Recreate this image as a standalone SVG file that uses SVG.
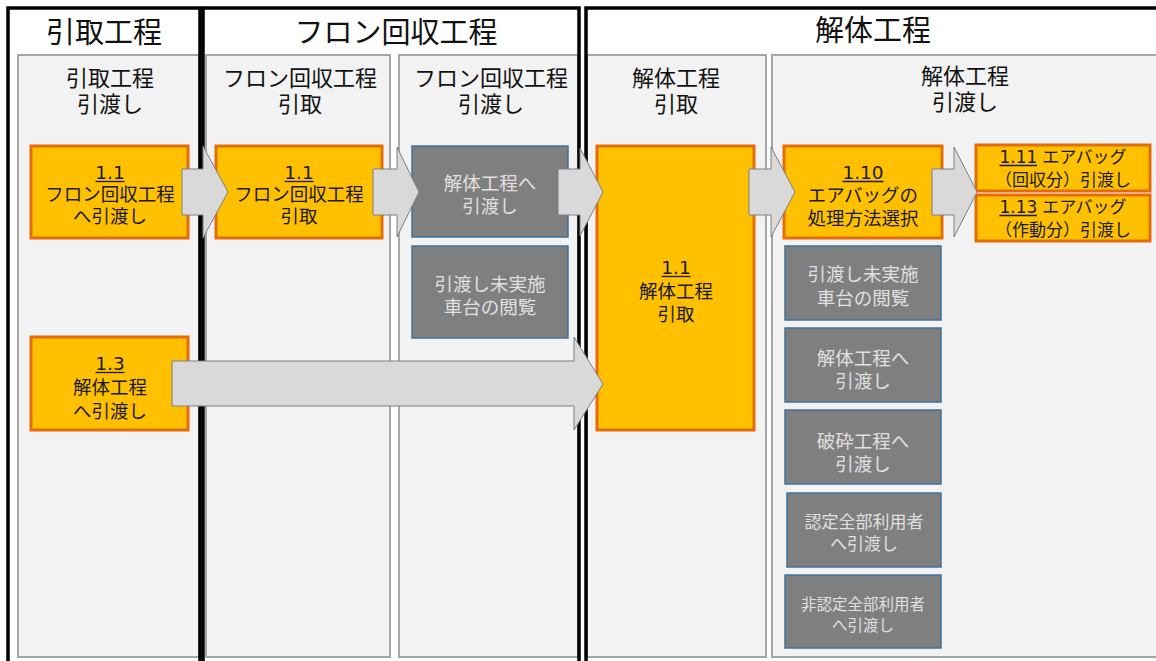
<svg xmlns="http://www.w3.org/2000/svg" width="1156" height="661" viewBox="0 0 1156 661" lang="ja">
<style>
text{font-family:"Liberation Sans","Noto Sans CJK JP",sans-serif;text-anchor:middle;dominant-baseline:central}
.n{font-family:"DejaVu Sans",sans-serif}
.frame{fill:none;stroke:#000;stroke-width:3.5}
.lane{fill:#f2f2f2;stroke:#a6a6a6;stroke-width:2}
.sec{font-size:29px;fill:#111}
.lh{font-size:22px;fill:#111}
.on{fill:#ffc000;stroke:#e46c0a;stroke-width:3}
.gn{fill:#7f7f7f;stroke:#41719c;stroke-width:1.5}
.ot{font-size:18.5px;fill:#1a1a1a}
.gt{font-size:18.5px;fill:#e0e0e0}
.ul{stroke:#1a1a1a;stroke-width:1.3}
.arr{fill:#d9d9d9;stroke:#7f7f7f;stroke-width:1}
</style>
<rect width="1156" height="661" fill="#fff"/>
<g id="lanes">
<rect class="lane" x="18" y="55" width="181" height="602"/>
<rect class="lane" x="206" y="55" width="184" height="602"/>
<rect class="lane" x="399" y="55" width="179" height="602"/>
<rect class="lane" x="587" y="55" width="179" height="602"/>
<rect class="lane" x="772" y="55" width="390" height="602"/>
</g>
<g id="frames">
<rect class="frame" x="8" y="8" width="192" height="660"/>
<rect class="frame" x="203" y="8" width="376" height="660"/>
<rect class="frame" x="586" y="8" width="580" height="660"/>
</g>
<g id="headers">
<text class="sec" x="104" y="33">引取工程</text>
<text class="sec" x="396" y="33">フロン回収工程</text>
<text class="sec" x="873" y="31">解体工程</text>
<text class="lh"><tspan x="110" y="78">引取工程</tspan><tspan x="110" y="104">引渡し</tspan></text>
<text class="lh"><tspan x="300" y="78">フロン回収工程</tspan><tspan x="300" y="104">引取</tspan></text>
<text class="lh"><tspan x="491" y="78">フロン回収工程</tspan><tspan x="491" y="104">引渡し</tspan></text>
<text class="lh"><tspan x="676" y="78">解体工程</tspan><tspan x="676" y="104">引取</tspan></text>
<text class="lh"><tspan x="965" y="76">解体工程</tspan><tspan x="965" y="102">引渡し</tspan></text>
</g>
<g id="nodeA">
<rect class="on" x="31" y="146" width="157" height="92"/>
<text class="ot"><tspan class="n" x="110" y="172">1.1</tspan><tspan x="110" y="194">フロン回収工程</tspan><tspan x="110" y="216">へ引渡し</tspan></text>
<line class="ul" x1="95.5" y1="181.5" x2="124.5" y2="181.5"/>
</g>
<g id="nodeB">
<rect class="on" x="216" y="146" width="166" height="92"/>
<text class="ot"><tspan class="n" x="299" y="172">1.1</tspan><tspan x="299" y="194">フロン回収工程</tspan><tspan x="299" y="216">引取</tspan></text>
<line class="ul" x1="284.5" y1="181.5" x2="313.5" y2="181.5"/>
</g>
<g id="nodeC">
<rect class="gn" x="412" y="146" width="156" height="91"/>
<text class="gt"><tspan x="490" y="183">解体工程へ</tspan><tspan x="490" y="206">引渡し</tspan></text>
</g>
<g id="nodeD">
<rect class="gn" x="412" y="246" width="156" height="92"/>
<text class="gt"><tspan x="490" y="284">引渡し未実施</tspan><tspan x="490" y="307">車台の閲覧</tspan></text>
</g>
<g id="nodeE">
<rect class="on" x="31" y="337" width="157" height="93"/>
<text class="ot"><tspan class="n" x="110" y="363">1.3</tspan><tspan x="110" y="387">解体工程</tspan><tspan x="110" y="411">へ引渡し</tspan></text>
<line class="ul" x1="95.5" y1="372.5" x2="124.5" y2="372.5"/>
</g>
<g id="nodeF">
<rect class="on" x="597" y="146" width="157" height="284"/>
<text class="ot"><tspan class="n" x="676" y="267">1.1</tspan><tspan x="676" y="291">解体工程</tspan><tspan x="676" y="314">引取</tspan></text>
<line class="ul" x1="661.5" y1="276.5" x2="690.5" y2="276.5"/>
</g>
<g id="nodeG">
<rect class="on" x="784" y="146" width="158" height="92"/>
<text class="ot"><tspan class="n" x="863" y="172">1.10</tspan><tspan x="863" y="195">エアバッグの</tspan><tspan x="863" y="218">処理方法選択</tspan></text>
<line class="ul" x1="842.5" y1="181.5" x2="883.5" y2="181.5"/>
</g>
<g id="nodeH">
<rect class="on" x="976" y="145" width="174" height="46"/>
<text class="ot" style="font-size:17px"><tspan x="1063" y="157"><tspan class="n">1.11</tspan> エアバッグ</tspan><tspan x="1063" y="180">（回収分）引渡し</tspan></text>
<line class="ul" x1="999.5" y1="165.5" x2="1037" y2="165.5"/>
</g>
<g id="nodeI">
<rect class="on" x="976" y="195" width="174" height="46"/>
<text class="ot" style="font-size:17px"><tspan x="1063" y="207"><tspan class="n">1.13</tspan> エアバッグ</tspan><tspan x="1063" y="230">（作動分）引渡し</tspan></text>
<line class="ul" x1="999.5" y1="215.5" x2="1037" y2="215.5"/>
</g>
<g id="nodeJ">
<rect class="gn" x="785" y="246" width="156" height="74"/>
<text class="gt"><tspan x="863" y="274">引渡し未実施</tspan><tspan x="863" y="298">車台の閲覧</tspan></text>
</g>
<g id="nodeK">
<rect class="gn" x="785" y="328" width="156" height="74"/>
<text class="gt"><tspan x="863" y="358">解体工程へ</tspan><tspan x="863" y="381">引渡し</tspan></text>
</g>
<g id="nodeL">
<rect class="gn" x="785" y="410" width="156" height="74"/>
<text class="gt"><tspan x="863" y="441">破砕工程へ</tspan><tspan x="863" y="464">引渡し</tspan></text>
</g>
<g id="nodeM">
<rect class="gn" x="787" y="493" width="154" height="74"/>
<text class="gt" style="font-size:17px"><tspan x="864" y="522">認定全部利用者</tspan><tspan x="864" y="544">へ引渡し</tspan></text>
</g>
<g id="nodeN">
<rect class="gn" x="785" y="575" width="156" height="73"/>
<text class="gt" style="font-size:15.5px"><tspan x="863" y="604">非認定全部利用者</tspan><tspan x="863" y="625">へ引渡し</tspan></text>
</g>
<g id="connectors">
<polygon class="arr" points="182,169 203,169 203,146 228,192 203,238 203,215 182,215"/>
<polygon class="arr" points="373,169 397,169 397,147 419,192 397,237 397,215 373,215"/>
<polygon class="arr" points="558,169 580,169 580,148 603,192 580,236 580,215 558,215"/>
<polygon class="arr" points="749,169 771,169 771,147 795,192 771,237 771,215 749,215"/>
<polygon class="arr" points="932,169 954,169 954,147 977,192 954,237 954,215 932,215"/>
<polygon class="arr" points="172,361 574,361 574,337 603,384 574,430 574,406 172,406"/>
</g>
</svg>
